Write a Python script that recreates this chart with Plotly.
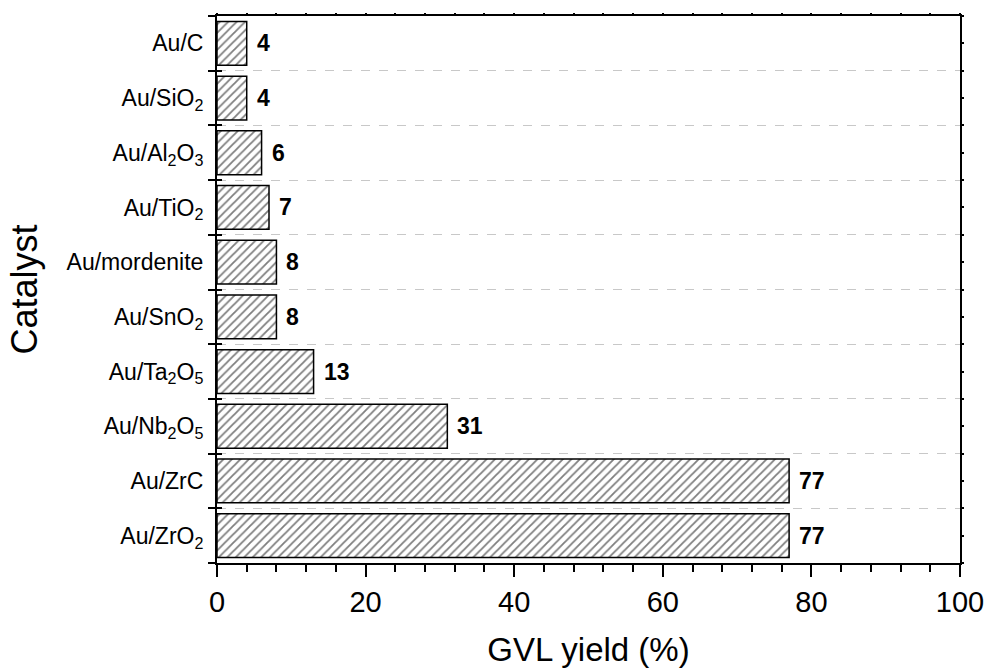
import plotly.graph_objects as go

# Catalysts listed bottom-to-top, with GVL yield (%)
catalysts = [
    "Au/ZrO<sub>2</sub>",
    "Au/ZrC",
    "Au/Nb<sub>2</sub>O<sub>5</sub>",
    "Au/Ta<sub>2</sub>O<sub>5</sub>",
    "Au/SnO<sub>2</sub>",
    "Au/mordenite",
    "Au/TiO<sub>2</sub>",
    "Au/Al<sub>2</sub>O<sub>3</sub>",
    "Au/SiO<sub>2</sub>",
    "Au/C",
]
gvl_yield = [77, 77, 31, 13, 8, 8, 7, 6, 4, 4]
x_ticks = [0, 20, 40, 60, 80, 100]

FONT = "Arial, 'Liberation Sans', sans-serif"
positions = list(range(len(catalysts)))
boundaries = [p - 0.5 for p in positions] + [positions[-1] + 0.5]
yrange = [-0.5, len(catalysts) - 0.5]

fig = go.Figure()

fig.add_trace(go.Bar(
    x=gvl_yield,
    y=positions,
    orientation="h",
    width=0.8,
    marker=dict(
        color="white",
        line=dict(color="black", width=1.5),
        pattern=dict(shape="/", size=6, solidity=0.3, fgcolor="#000000", bgcolor="white"),
    ),
    showlegend=False,
    hoverinfo="x+y",
))

# empty traces so the overlay axes get drawn
fig.add_trace(go.Scatter(x=[], y=[], xaxis="x2", yaxis="y", showlegend=False))
fig.add_trace(go.Scatter(x=[], y=[], xaxis="x", yaxis="y2", showlegend=False))
fig.add_trace(go.Scatter(x=[], y=[], xaxis="x", yaxis="y3", showlegend=False))

# value labels at the bar ends
for v, p in zip(gvl_yield, positions):
    fig.add_annotation(
        x=v, y=p, text=f"<b>{v}</b>", showarrow=False,
        xanchor="left", yanchor="middle", xshift=8,
        font=dict(family=FONT, size=23, color="black"),
    )

fig.update_layout(
    width=989, height=668,
    margin=dict(l=217, r=29, t=16, b=105),
    plot_bgcolor="white", paper_bgcolor="white",
    font=dict(family=FONT, color="black"),
    bargap=0.2,
    xaxis=dict(
        range=[0, 100], automargin=False,
        tickmode="array", tickvals=x_ticks,
        ticks="outside", ticklen=12, tickwidth=2, tickcolor="black",
        minor=dict(dtick=4, tick0=0, ticks="outside", ticklen=7, tickwidth=2, tickcolor="black", showgrid=False),
        showline=True, linewidth=2, linecolor="black", mirror=True,
        showgrid=False, zeroline=False,
        tickfont=dict(family=FONT, size=29, color="black"),
        title=dict(text="GVL yield (%)", font=dict(family=FONT, size=33, color="black"), standoff=30),
    ),
    xaxis2=dict(
        overlaying="x", side="top", anchor="y", range=[0, 100],
        tickmode="linear", tick0=0, dtick=4,
        ticks="outside", ticklen=2, tickwidth=2, tickcolor="black",
        showticklabels=False, showgrid=False, zeroline=False, showline=False,
    ),
    yaxis=dict(
        range=yrange, automargin=False,
        tickmode="array", tickvals=positions, ticktext=catalysts,
        ticks="", ticklabelstandoff=7,
        minor=dict(
            tickmode="array", tickvals=boundaries,
            ticks="outside", ticklen=7, tickwidth=2, tickcolor="black",
            showgrid=True, gridcolor="#c8c8c8", gridwidth=1, griddash="dash",
        ),
        showline=True, linewidth=2, linecolor="black", mirror=True,
        showgrid=False, zeroline=False,
        tickfont=dict(family=FONT, size=23, color="black"),
        title=dict(text="Catalyst", font=dict(family=FONT, size=36, color="black"), standoff=18),
    ),
    yaxis2=dict(
        overlaying="y", side="left", anchor="x", range=yrange,
        tickmode="array", tickvals=boundaries,
        ticks="inside", ticklen=5, tickwidth=2, tickcolor="black",
        showticklabels=False, showgrid=False, zeroline=False, showline=False,
    ),
    yaxis3=dict(
        overlaying="y", side="right", anchor="x", range=yrange,
        tickmode="linear", tick0=-0.5, dtick=0.5,
        ticks="outside", ticklen=3, tickwidth=2, tickcolor="black",
        showticklabels=False, showgrid=False, zeroline=False, showline=False,
    ),
)

fig.write_html("out.html")
